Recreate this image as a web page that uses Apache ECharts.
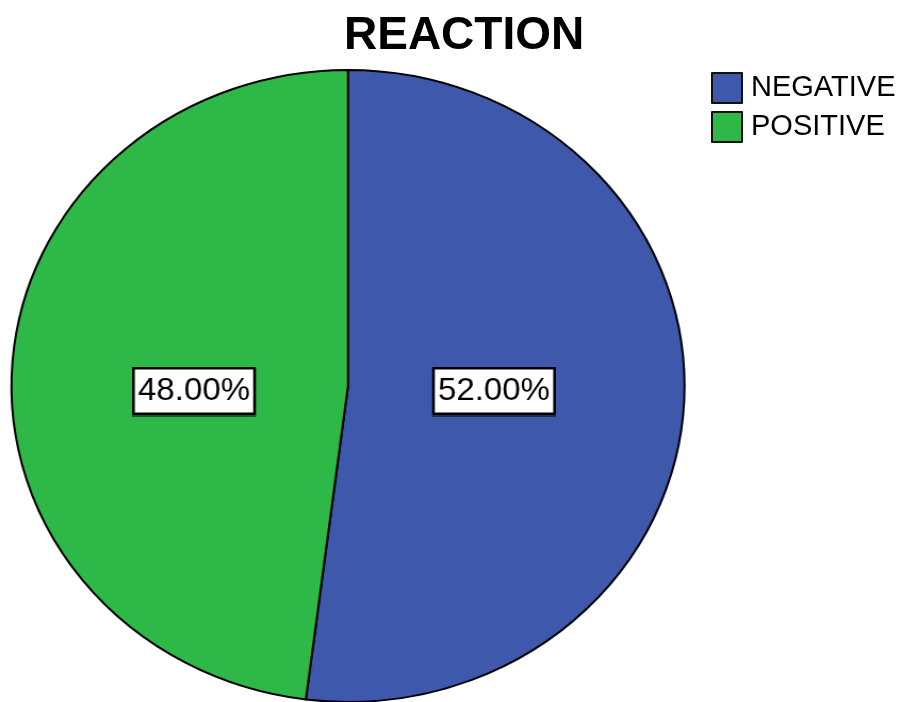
<!DOCTYPE html>
<html>
<head>
<meta charset="utf-8">
<script src="https://cdn.jsdelivr.net/npm/echarts@6/dist/echarts.min.js"></script>
<style>
html,body{margin:0;padding:0;background:#fff;}
#wrap{position:relative;width:899px;height:702px;overflow:hidden;background:#fff;}
#pie{position:absolute;left:0;top:0;width:899px;height:702px;transform-origin:0 0;transform:scale(1.065,1);}
#top{position:absolute;left:0;top:0;width:899px;height:702px;}
</style>
</head>
<body>
<div id="wrap">
  <div id="pie"></div>
  <div id="top"></div>
</div>
<script>
const categories = ['NEGATIVE', 'POSITIVE'];
const percents = [52.0, 48.0];
const colors = ['#3E58AC', '#2EB848'];
const titleText = 'REACTION';

const FONT = 'Liberation Sans, Arial, sans-serif';
const SX = 1.065; // horizontal stretch of the pie (reference pie is slightly elliptical)

const pieChart = echarts.init(document.getElementById('pie'), null, {renderer: 'canvas'});
const topChart = echarts.init(document.getElementById('top'), null, {renderer: 'canvas'});
const labelCenters = [[494 / SX, 391], [194 / SX, 391]];

pieChart.setOption({
  animation: false,
  series: [{
    type: 'pie',
    center: [348 / SX, 386],
    radius: 316,
    startAngle: 90,
    clockwise: true,
    silent: true,
    data: categories.map((c, i) => ({name: c, value: percents[i], itemStyle: {color: colors[i]}})),
    itemStyle: {borderColor: '#000', borderWidth: 2},
    label: {
      show: true,
      position: 'inside',
      formatter: p => percents[p.dataIndex].toFixed(2) + '%',
      fontFamily: FONT,
      fontSize: 31,
      color: '#000',
      backgroundColor: '#fff',
      borderColor: '#000',
      borderWidth: 2.5,
      padding: [7, 3, 5, 3],
      lineHeight: 31,
      shadowColor: 'rgba(0,0,0,0.5)',
      shadowOffsetY: 2
    },
    labelLine: {show: false},
    labelLayout: function (params) {
      const c = labelCenters[params.dataIndex];
      return {x: c[0], y: c[1], align: 'center', verticalAlign: 'middle'};
    }
  }]
});

topChart.setOption({
  animation: false,
  title: {
    text: titleText,
    left: 339,
    top: 8,
    textStyle: {fontFamily: FONT, fontWeight: 'bold', fontSize: 46, color: '#000'}
  },
  legend: {
    orient: 'vertical',
    left: 706,
    top: 67,
    itemWidth: 30,
    itemHeight: 30,
    itemGap: 7,
    icon: 'rect',
    data: categories.map((c, i) => ({name: c, itemStyle: {color: colors[i], borderColor: '#111', borderWidth: 2, opacity: 1}})),
    textStyle: {fontFamily: FONT, fontSize: 29, color: '#000', padding: [5, 0, 0, 4]}
  },
  series: [{
    type: 'pie',
    silent: true,
    center: [-100, -100],
    radius: 0,
    data: categories.map((c, i) => ({name: c, value: percents[i], itemStyle: {color: colors[i]}})),
    label: {show: false},
    labelLine: {show: false}
  }]
});
</script>
</body>
</html>
